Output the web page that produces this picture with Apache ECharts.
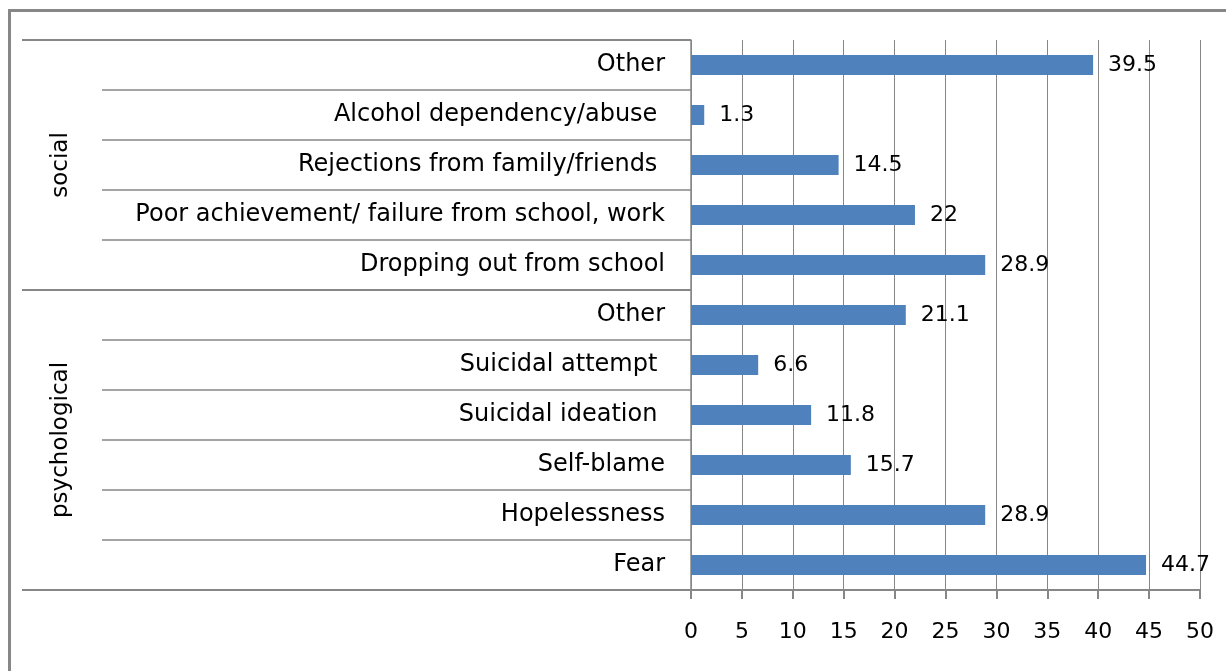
<!DOCTYPE html>
<html>
<head>
<meta charset="utf-8">
<script src="https://cdn.jsdelivr.net/npm/echarts@6/dist/echarts.min.js"></script>
<style>
html,body{margin:0;padding:0;background:#fff;}
#chart{width:1226px;height:671px;}
</style>
</head>
<body>
<div id="chart"></div>
<script>
// Categories, top to bottom
const categories = [
  'Other',
  'Alcohol dependency/abuse ',
  'Rejections from family/friends ',
  'Poor achievement/ failure from school, work',
  'Dropping out from school',
  'Other',
  'Suicidal attempt ',
  'Suicidal ideation ',
  'Self-blame',
  'Hopelessness',
  'Fear'
];
const values = [39.5, 1.3, 14.5, 22, 28.9, 21.1, 6.6, 11.8, 15.7, 28.9, 44.7];
const groups = ['social', 'psychological'];
const groupSizes = [5, 6];
const xTicks = [0, 5, 10, 15, 20, 25, 30, 35, 40, 45, 50];

const boundaries = [0];
const centers = [];
groupSizes.forEach(function (n) {
  const start = boundaries[boundaries.length - 1];
  centers.push(start + n / 2);
  boundaries.push(start + n);
});
const total = boundaries[boundaries.length - 1];

const FONT = 'DejaVu Sans';
const GRAY = '#878787';

const chart = echarts.init(document.getElementById('chart'), null, {renderer: 'canvas'});
chart.setOption({
  animation: false,
  backgroundColor: '#fff',
  grid: {left: 691, right: 26, top: 40, bottom: 81, containLabel: false},
  xAxis: {
    type: 'value',
    min: xTicks[0],
    max: xTicks[xTicks.length - 1],
    interval: xTicks[1] - xTicks[0],
    axisLine: {show: true, onZero: false, lineStyle: {color: GRAY, width: 2}},
    axisTick: {show: true, length: 9, lineStyle: {color: GRAY, width: 2}},
    splitLine: {show: true, lineStyle: {color: GRAY, width: 1}},
    axisLabel: {color: '#000', fontSize: 22, fontFamily: FONT, margin: 31}
  },
  yAxis: [
    {
      type: 'category',
      data: categories,
      inverse: true,
      position: 'left',
      axisLine: {show: true, onZero: false, lineStyle: {color: GRAY, width: 1.5}},
      axisTick: {show: true, interval: 0, length: 589, lineStyle: {color: GRAY, width: 1.5}},
      axisLabel: {color: '#000', fontSize: 24, fontFamily: FONT, margin: 26, interval: 0}
    },
    {
      type: 'value',
      min: 0,
      max: total,
      inverse: true,
      position: 'left',
      axisLine: {show: false, onZero: false},
      splitLine: {show: false},
      axisTick: {show: true, customValues: boundaries, length: 669, lineStyle: {color: GRAY, width: 2}},
      axisLabel: {
        show: true,
        customValues: centers,
        rotate: 90,
        margin: 618,
        color: '#000',
        fontSize: 23,
        fontFamily: FONT,
        formatter: function (v) {
          const idx = centers.indexOf(v);
          return idx >= 0 ? groups[idx] : '';
        }
      }
    }
  ],
  series: [{
    type: 'bar',
    data: values,
    yAxisIndex: 0,
    barWidth: 20,
    itemStyle: {color: '#4F81BD'},
    label: {
      show: true,
      position: 'right',
      distance: 15,
      color: '#000',
      fontSize: 22,
      fontFamily: FONT
    }
  }],
  graphic: [{
    type: 'rect',
    shape: {x: 9.5, y: 10.5, width: 1400, height: 900},
    style: {fill: 'none', stroke: GRAY, lineWidth: 3},
    silent: true
  }]
});
</script>
</body>
</html>
